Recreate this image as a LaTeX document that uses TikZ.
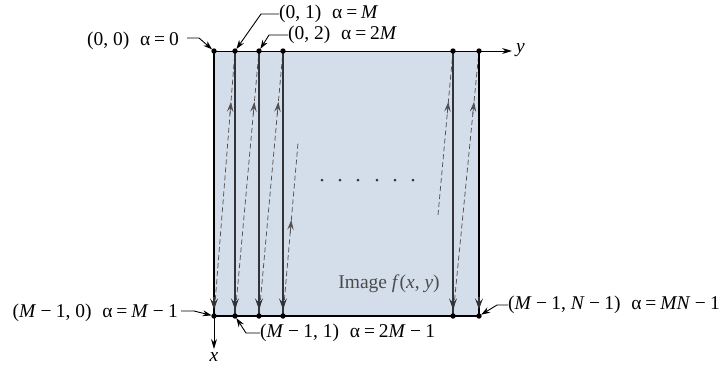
\documentclass[tikz,border=0pt]{standalone}
\usepackage{fontspec}
\setmainfont{Liberation Serif}
\usetikzlibrary{arrows.meta}
\newcommand\mns{\kern0.22em−\kern0.22em}
\newcommand\eqs{\kern0.2em=\kern0.2em}
\newcommand\gapa{\hspace{0.55em}}
\definecolor{imgfill}{RGB}{212,222,234}
\definecolor{colgray}{RGB}{50,50,55}
\definecolor{dashgray}{RGB}{80,80,85}
\definecolor{imgtext}{RGB}{75,75,75}
\begin{document}
\begin{tikzpicture}[x=1pt,y=-1pt,
  lbl/.style={inner sep=0pt,font=\fontsize{19.5}{22}\selectfont},
  colline/.style={draw=colgray,line width=1.6pt},
  edgeline/.style={draw=black,line width=1.1pt},
  coltip/.style={draw=colgray,line width=1.2pt,-{Stealth[length=11pt,width=8pt,inset=4.5pt]}},
  dashline/.style={draw=dashgray,line width=0.75pt,dash pattern=on 5pt off 3pt},
  midtip/.style={draw=dashgray,line width=0.75pt,-{Stealth[length=10pt,width=6.5pt,inset=4pt]}},
  leader/.style={draw=black,line width=0.9pt,-{Stealth[length=9pt,width=6pt]},shorten >=2.5pt},
  axisline/.style={draw=black,line width=1pt,-{Stealth[length=10pt,width=6pt]}},
  dotc/.style={fill=black}
]
\useasboundingbox (0,0) rectangle (727,368);
% corner / column coordinates
\coordinate (t0) at (214,51);  \coordinate (b0) at (214,316);
\coordinate (t1) at (235,51);  \coordinate (b1) at (235,316);
\coordinate (t2) at (259,51);  \coordinate (b2) at (259,316);
\coordinate (t3) at (283,51);  \coordinate (b3) at (283,316);
\coordinate (t4) at (453,51);  \coordinate (b4) at (453,316);
\coordinate (t5) at (479,51);  \coordinate (b5) at (479,316);
\coordinate (e4) at (298,143);
\coordinate (s5) at (438,215);
\coordinate (ya) at (512,51);
\coordinate (xa) at (214,349);
% image area
\fill[imgfill] (t0) rectangle (b5);
% dashed returns
\draw[dashline] (b0) -- (t1) coordinate[pos=0.76] (d1a) coordinate[pos=0.808] (d1b);
\draw[dashline] (b1) -- (t2) coordinate[pos=0.76] (d2a) coordinate[pos=0.808] (d2b);
\draw[dashline] (b2) -- (t3) coordinate[pos=0.76] (d3a) coordinate[pos=0.808] (d3b);
\draw[dashline] (b3) -- (e4) coordinate[pos=0.48] (d4a) coordinate[pos=0.555] (d4b);
\draw[dashline] (s5) -- (t4) coordinate[pos=0.62] (d5a) coordinate[pos=0.69] (d5b);
\draw[dashline] (b4) -- (t5) coordinate[pos=0.76] (d6a) coordinate[pos=0.808] (d6b);
\foreach \i in {1,...,6} \draw[midtip] (d\i a) -- (d\i b);
% columns
\draw[edgeline] (t0) -- (b0) coordinate[pos=0.93] (c0a) coordinate[pos=0.975] (c0b);
\draw[colline] (t1) -- (b1) coordinate[pos=0.93] (c1a) coordinate[pos=0.975] (c1b);
\draw[colline] (t2) -- (b2) coordinate[pos=0.93] (c2a) coordinate[pos=0.975] (c2b);
\draw[colline] (t3) -- (b3) coordinate[pos=0.93] (c3a) coordinate[pos=0.975] (c3b);
\draw[colline] (t4) -- (b4) coordinate[pos=0.93] (c4a) coordinate[pos=0.975] (c4b);
\draw[edgeline] (t5) -- (b5) coordinate[pos=0.93] (c5a) coordinate[pos=0.975] (c5b);
\foreach \i in {0,...,5} \draw[coltip] (c\i a) -- (c\i b);
% top and bottom edges
\draw[black,line width=1.1pt] (b0) -- (b5);
\draw[axisline] (t0) -- (ya);
\draw[axisline] (b0) -- (xa);
% dots
\foreach \p in {t0,t1,t2,t3,t4,t5,b0,b1,b2,b3,b4,b5} \fill[dotc] (\p) circle (2.7pt);
\foreach \xx [count=\i] in {322,340,358,377,395,413} \fill[colgray] (\xx,180) circle (1.5pt) coordinate (m\i);
% axis labels
\node[lbl,anchor=west] (ylab) at (516,50) {\textit{y}};
\node[lbl] (xlab) at (214,357) {\textit{x}};
% image label
\node[lbl,text=imgtext] (img) at (389,284) {Image \textit{f}(\textit{x}, \textit{y})};
% labels with leaders
\node[lbl,anchor=east] (l00) at (179,41) {(0, 0)\gapa α\eqs0};
\draw[leader] (l00.east) ++(8,-3) -- ++(12,0) -- (t0);
\node[lbl,anchor=west] (l01) at (279,14) {(0, 1)\gapa α\eqs\textit{M}};
\draw[leader] (l01.west) -- ++(-18,0) -- (t1);
\node[lbl,anchor=west] (l02) at (288,35) {(0, 2)\gapa α\eqs2\textit{M}};
\draw[leader] (l02.west) -- ++(-19,0) -- (t2);
\node[lbl,anchor=east] (lm0) at (178,313) {(\textit{M}\mns1, 0)\gapa α\eqs\textit{M}\mns1};
\draw[leader] (lm0.east) ++(3,-2) -- ++(13,0) -- (b0);
\node[lbl,anchor=west] (lm1) at (260,333) {(\textit{M}\mns1, 1)\gapa α\eqs2\textit{M}\mns1};
\draw[leader] (lm1.west) -- ++(-14,0) -- (b1);
\node[lbl,anchor=west] (lmn) at (508,305) {(\textit{M}\mns1, \textit{N}\mns1)\gapa α\eqs\textit{MN}\mns1};
\draw[leader] (lmn.west) -- ++(-11,0) -- (b5);
\end{tikzpicture}
\end{document}
